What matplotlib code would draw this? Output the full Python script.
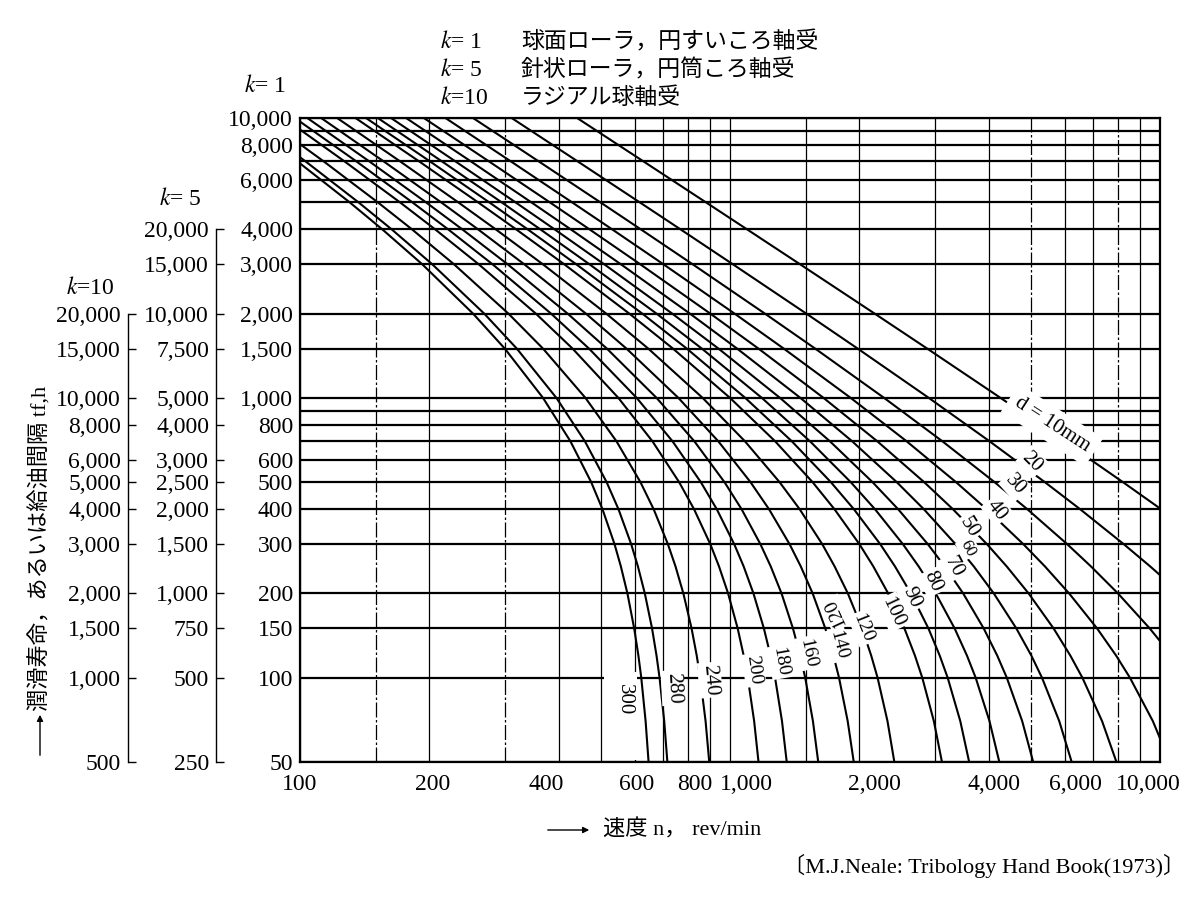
import matplotlib.pyplot as plt
from matplotlib.patches import FancyArrowPatch, Rectangle
from matplotlib.ticker import NullLocator
from matplotlib.transforms import blended_transform_factory, ScaledTranslation

plt.rcParams['font.family'] = ['Liberation Serif', 'Noto Sans CJK JP']
plt.rcParams['mathtext.fontset'] = 'stix'

# life levels (k=1 scale, hours) at which the speed of each curve was read
life_levels = [10000, 7000, 5000, 4000, 3000, 2000, 1500, 1000, 700, 500,
               400, 300, 250, 200, 150, 120, 100, 70, 50]

# bore diameter d (mm) -> speed n (rev/min) at each life level
speed_at_life = {
    10: [441.0, 628.9, 878.4, 1095.8, 1456, 2170, 2874.8, 4257, 5983, 8199,
         10062, 13021, 15266, 18447, 23301, 27670, 31623, 40247, 49191],
    20: [310.6, 442.2, 616.2, 767.3, 1016, 1505, 1981.3, 2899, 4013, 5397,
         6522, 8238, 9486, 11180, 13611, 15653, 17392, 20870, 24081],
    30: [252.6, 359.0, 499.2, 620.4, 819.2, 1205.7, 1577.8, 2282, 3117, 4123,
         4915, 6086, 6908, 7988, 9467, 10650, 11618, 13453, 15035],
    40: [217.9, 309.2, 429.0, 532.1, 700.5, 1024.8, 1333.5, 1908, 2574, 3354,
         3953, 4812, 5399, 6149, 7141, 7906, 8514, 9624, 10541],
    50: [194.1, 275.0, 380.8, 471.4, 618.7, 900.0, 1164.6, 1650, 2200, 2828,
         3300, 3960, 4400, 4950, 5657, 6187, 6600, 7333, 7920],
    60: [176.5, 249.6, 344.9, 426.3, 557.8, 806.9, 1038.7, 1457.6, 1922.8, 2442,
         2824, 3347, 3689, 4108, 4634, 5021, 5316, 5830, 6232],
    70: [162.8, 229.8, 316.9, 391.0, 510.2, 733.9, 940.1, 1307, 1707, 2145,
         2461, 2885, 3157, 3486, 3891, 4183, 4403, 4781, 5071],
    80: [151.7, 213.8, 294.2, 362.3, 471.4, 674.7, 860.0, 1185.8, 1534.5, 1908.8,
         2174, 2524.5, 2746, 3010, 3330, 3557, 3727, 4013, 4230],
    90: [142.4, 200.5, 275.3, 338.5, 439.2, 625.3, 793.4, 1085, 1392, 1716,
         1941.7, 2236, 2419, 2635, 2894, 3074, 3208, 3432, 3599],
    100: [134.6, 189.2, 259.3, 318.2, 411.8, 583.3, 736.8, 1000, 1273, 1556,
          1750, 2000, 2154, 2333, 2545, 2692, 2800, 2979, 3111],
    120: [122.0, 170.9, 233.2, 285.3, 367.3, 515.4, 645.5, 863.6, 1083, 1304,
          1452.4, 1639, 1750.8, 1880, 2029, 2130, 2204, 2324, 2411],
    140: [112.0, 156.5, 212.8, 259.5, 332.4, 462.2, 574.4, 758.5, 939.0, 1116,
          1232.5, 1376, 1460.7, 1557, 1666, 1740, 1793, 1878, 1940],
    160: [104.0, 144.9, 196.2, 238.5, 304.1, 419.2, 517.2, 674.9, 826.0, 970.9,
          1064.2, 1177, 1243.6, 1318, 1401, 1456.3, 1496, 1559, 1604],
    180: [97.3, 135.2, 182.4, 221.1, 280.5, 383.6, 470.0, 606.7, 734.9, 855.3,
          931.7, 1023, 1075.8, 1134, 1199, 1242.3, 1273, 1321, 1355],
    200: [91.7, 126.9, 170.7, 206.2, 260.5, 353.6, 430.4, 550.0, 660.0, 761.5,
          825.0, 900.0, 942.8, 990.0, 1042, 1076.0, 1100, 1138, 1165],
    240: [82.5, 113.5, 151.6, 182.2, 228.2, 305.3, 367.4, 461.1, 544.4, 619.0,
          664.5, 717.2, 746.9, 779.1, 814.1, 836.8, 852.5, 877.4, 894.8],
    280: [75.2, 103.0, 136.7, 163.4, 203.1, 268.2, 319.3, 394.7, 459.7, 516.5,
          550.4, 589.2, 610.7, 633.8, 658.8, 674.7, 685.8, 703.1, 715.1],
    300: [72.2, 98.6, 130.4, 155.4, 192.5, 252.6, 299.4, 367.4, 425.4, 475.5,
          505.2, 538.9, 557.4, 577.4, 598.7, 612.3, 621.8, 636.4, 646.6],
}

# grid and tick values
life_grid = [50, 100, 150, 200, 300, 400, 500, 600, 700, 800, 900, 1000, 1500,
             2000, 3000, 4000, 5000, 6000, 7000, 8000, 9000, 10000]
speed_grid = [100, 150, 200, 300, 400, 500, 600, 700, 800, 900, 1000, 1500,
              2000, 3000, 4000, 5000, 6000, 7000, 8000, 9000, 10000]
dashdot_speeds = [150, 300, 5000, 8000]
life_ticks_k1 = [50, 100, 150, 200, 300, 400, 500, 600, 800, 1000, 1500, 2000,
                 3000, 4000, 6000, 8000, 10000]
life_ticks_k5 = [250, 500, 750, 1000, 1500, 2000, 2500, 3000, 4000, 5000, 7500,
                 10000, 15000, 20000]
life_ticks_k10 = [500, 1000, 1500, 2000, 3000, 4000, 5000, 6000, 8000, 10000,
                  15000, 20000]
speed_ticks = [100, 200, 400, 600, 800, 1000, 2000, 4000, 6000, 10000]
speed_tick_shift = [0, 3, -13, 2, 6, 16, 15, 5, 11, -12]   # px, as printed

# curve labels: text, x px, y px, rotation, size
curve_labels = [
    ("d = 10mm", 1052, 425, -33, 15),
    ("20", 1032, 462, -45, 15), ("30", 1015, 485, -48, 15),
    ("40", 997, 510, -52, 15), ("50", 969, 527, -58, 15),
    ("60", 968, 548, -62, 12), ("70", 953, 567, -62, 15),
    ("80", 933, 582, -65, 15), ("90", 912, 598, -65, 15),
    ("100", 893, 612, -65, 15), ("120", 835, 613, 115, 14),
    ("120", 863, 628, -68, 14), ("140", 838, 645, -75, 14),
    ("160", 808, 653, -78, 14), ("180", 780, 662, -80, 14),
    ("200", 754, 670, -82, 14), ("240", 710, 680, -85, 15),
    ("280", 673, 688, -87, 15), ("300", 624, 700, -90, 15),
]

W, H = 1192, 898


def px(x, y):
    return x / W, 1 - y / H


def fmt(v):
    return f"{v:,}"


fig = plt.figure(figsize=(W / 100, H / 100), dpi=100)
ax = fig.add_axes([300 / W, 1 - 762 / H, 860 / W, 644 / H])
ax.set_xscale('log')
ax.set_yscale('log')
ax.set_xlim(100, 10000)
ax.set_ylim(50, 10000)

for v in life_grid:
    ax.axhline(v, color='black', lw=1.6, zorder=1)
for v in speed_grid:
    ls = (0, (12, 2, 2, 2)) if v in dashdot_speeds else '-'
    ax.axvline(v, color='black', lw=0.9, ls=ls, zorder=1)

# blank patch beside the 300 label
fig.patches.append(Rectangle(px(604, 760), 33 / W, 88 / H, transform=fig.transFigure,
                             fc='white', ec='none', zorder=1.5))

for d, speeds in speed_at_life.items():
    ax.plot(speeds, life_levels, color='black', lw=1.5, zorder=2,
            solid_joinstyle='round')

ax.set_xticks(speed_ticks)
ax.set_xticklabels([])
ax.set_yticks(life_ticks_k1)
ax.set_yticklabels([fmt(v) for v in life_ticks_k1])
ax.xaxis.set_minor_locator(NullLocator())
ax.yaxis.set_minor_locator(NullLocator())
ax.tick_params(axis='both', length=0, labelsize=17)
ax.tick_params(axis='y', pad=5)
for s in ax.spines.values():
    s.set_linewidth(1.6)

xlab_trans = blended_transform_factory(ax.transData, ax.transAxes)
for v, dx in zip(speed_ticks, speed_tick_shift):
    t = xlab_trans + ScaledTranslation(dx / 100, -12 / 100, fig.dpi_scale_trans)
    ax.text(v, 0, fmt(v), transform=t, fontsize=17, ha='center', va='top')


def side_axis(x_px, factor, ticks):
    a = fig.add_axes([x_px / W, 1 - 762 / H, 0.001, 644 / H])
    a.set_yscale('log')
    a.set_ylim(50 * factor, 10000 * factor)
    for s in ['top', 'right', 'bottom']:
        a.spines[s].set_visible(False)
    a.spines['left'].set_bounds(ticks[0], ticks[-1])
    a.spines['left'].set_linewidth(1.0)
    a.set_xticks([])
    a.set_yticks(ticks)
    a.set_yticklabels([fmt(v) for v in ticks])
    a.yaxis.set_minor_locator(NullLocator())
    a.tick_params(axis='y', direction='in', length=6, width=1.0, pad=5, labelsize=17)
    a.patch.set_visible(False)
    return a


side_axis(216, 5, life_ticks_k5)
side_axis(128, 10, life_ticks_k10)

# k headers
fig.text(*px(265, 86), "$k$= 1", fontsize=17, ha='center', va='center')
fig.text(*px(180, 199), "$k$= 5", fontsize=17, ha='center', va='center')
fig.text(*px(90, 288), "$k$=10", fontsize=17, ha='center', va='center')

# legend lines at the top
legend_k = ["$k$= 1", "$k$= 5", "$k$=10"]
legend_text = ["球面ローラ，円すいころ軸受", "針状ローラ，円筒ころ軸受", "ラジアル球軸受"]
for i, (kk, tx) in enumerate(zip(legend_k, legend_text)):
    y = 42 + 28 * i
    fig.text(*px(440, y), kk, fontsize=17, ha='left', va='center')
    fig.text(*px(521, y), tx, fontsize=16.5, ha='left', va='center')

# curve labels
for txt, x, y, rot, size in curve_labels:
    pad = 0.35 if txt.startswith('d') else 0.1
    fig.text(*px(x, y), txt, fontsize=size, rotation=rot, ha='center', va='center',
             rotation_mode='anchor', zorder=3,
             bbox=dict(boxstyle=f'square,pad={pad}', fc='white', ec='none'))

# axis titles
fig.text(*px(40, 548), "潤滑寿命，あるいは給油間隔 tf,h", rotation=90, fontsize=16,
         ha='center', va='center')
fig.add_artist(FancyArrowPatch(px(40, 758), px(40, 712), transform=fig.transFigure,
                               arrowstyle='-|>', mutation_scale=9, lw=1.0, color='black'))
fig.text(*px(603, 830), "速度 n， rev/min", fontsize=16, ha='left', va='center')
fig.add_artist(FancyArrowPatch(px(545, 830), px(592, 830), transform=fig.transFigure,
                               arrowstyle='-|>', mutation_scale=9, lw=1.0, color='black'))
fig.text(*px(1185, 866), "〔M.J.Neale: Tribology Hand Book(1973)〕", fontsize=16,
         ha='right', va='center')

fig.savefig('out.png', dpi=100)
